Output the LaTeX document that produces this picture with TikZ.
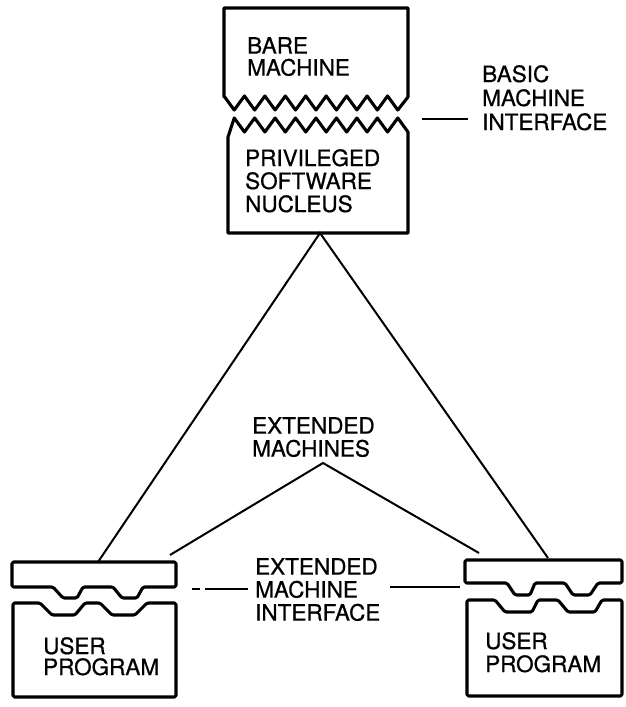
\documentclass[tikz,border=0pt]{standalone}
\usepackage{fontspec}
\setmainfont[FakeBold=0.7]{TeX Gyre Heros}
\begin{document}
\begin{tikzpicture}[x=1pt,y=-1pt,
  box/.style={line width=3.1pt,line join=round,rounded corners=1.5pt},
  wire/.style={line width=2pt},
  lbl/.style={font=\fontsize{22.5}{#1}\selectfont,align=left,anchor=north west,inner sep=0pt},
  lbl/.default=23]
\useasboundingbox (0,0) rectangle (626,707);
\def\tw{20.444}

% bare machine: upper block with a jagged lower edge
\draw[box,rounded corners=0pt] (224,97) -- (224,8) -- (408,8) -- (408,97)
  \foreach \i in {8,7,...,0} { -- ({224+(\i+0.5)*\tw},110) -- ({224+\i*\tw},96) } -- cycle;
% privileged software nucleus: lower block with a jagged upper edge
\draw[box,rounded corners=0pt] (228,233) -- (228,137)
  \foreach \i in {0,...,8} { -- ({224+(\i+0.5)*\tw},118) -- ({224+(\i+1)*\tw},132) }
  -- (408,233) -- cycle;

\node[lbl=22] (bare) at (247,37) {BARE\\MACHINE};
\node[lbl] (nucleus) at (245,149) {PRIVILEGED\\SOFTWARE\\NUCLEUS};
\node[lbl=24] (bmi) at (482,65) {BASIC\\MACHINE\\INTERFACE};
\coordinate (bmiA) at (422,119);
\coordinate (bmiB) at (468,119);
\draw[wire] (bmiA) -- (bmiB);

% left user program: lid with teeth and notched body
\draw[box] (12,562) -- (176,562) -- (176,587) -- (143,587) -- (137,598) -- (122,598)
  -- (113,587) -- (83,587) -- (77,598) -- (63,598) -- (53,587) -- (12,587) -- cycle;
\draw[box] (13,697) -- (13,603) -- (40,603) -- (52,615) -- (75,615) -- (85,603)
  -- (100,603) -- (112,615) -- (135,615) -- (147,603) -- (176,603) -- (176,697) -- cycle;
\node[lbl=21] (userL) at (43,637) {USER\\PROGRAM};

% right user program
\draw[box] (465,560) -- (622,560) -- (622,583) -- (598,583) -- (590,595) -- (573,595)
  -- (565,583) -- (535,583) -- (530,595) -- (515,595) -- (507,583) -- (465,583) -- cycle;
\draw[box] (467,696) -- (467,600) -- (495,600) -- (505,612) -- (532,612) -- (538,600)
  -- (558,600) -- (568,612) -- (595,612) -- (602,600) -- (622,600) -- (622,696) -- cycle;
\node[lbl] (userR) at (485,632) {USER\\PROGRAM};

% links from the nucleus down to the two user programs
\coordinate (apex) at (320,233);
\coordinate (lidL) at (98,562);
\coordinate (lidR) at (548,558);
\draw[wire] (lidL) -- (apex) -- (lidR);

% extended machines
\node[lbl] (ext) at (252,417) {EXTENDED\\MACHINES};
\coordinate (extTop) at (323,463);
\coordinate (extL) at (170,555);
\coordinate (extR) at (479,553);
\draw[wire,line join=miter] (extL) -- (extTop) -- (extR);

% extended machine interface
\node[lbl] (emi) at (255,558) {EXTENDED\\MACHINE\\INTERFACE};
\coordinate (emiA) at (192,589);
\coordinate (emiB) at (248,589);
\coordinate (emiC) at (390,587);
\coordinate (emiD) at (460,587);
\draw[wire,dash pattern=on 8pt off 5pt on 60pt] (emiA) -- (emiB);
\draw[wire] (emiC) -- (emiD);
\end{tikzpicture}
\end{document}
